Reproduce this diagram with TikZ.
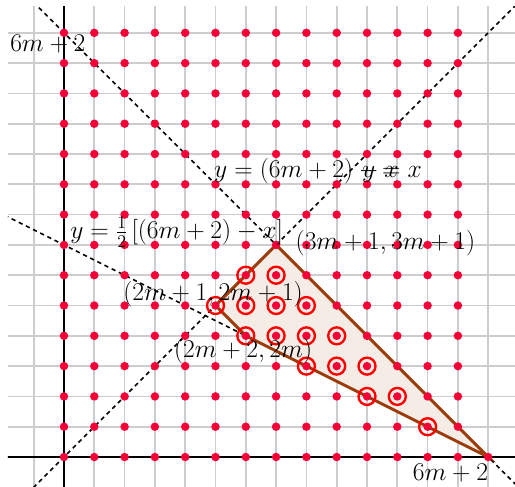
\RequirePackage{fix-cm}
\documentclass[tikz,border=0pt]{standalone}
\usepackage{tikz}
\definecolor{dotred}{RGB}{245,0,55}
\definecolor{edgebrown}{RGB}{155,60,10}
\definecolor{fillbeige}{RGB}{246,236,230}
\definecolor{gridgray}{RGB}{205,205,205}
\tikzset{
  gridline/.style={draw=gridgray,line width=1.6pt},
  axisline/.style={draw=black,line width=1.6pt},
  dashline/.style={draw=black,line width=1.5pt,dash pattern=on 4pt off 3.5pt},
  edgeline/.style={draw=edgebrown,line width=2.8pt,line join=miter},
  ringmark/.style={draw=red,line width=2.2pt},
  lbl/.style={inner sep=0pt,font=\fontsize{24}{29}\selectfont}
}
\begin{document}
\begin{tikzpicture}
\useasboundingbox (-2.112,-0.957) rectangle (14.884,15.083);
\begin{scope}
\clip (-1.85,-0.957) rectangle (14.884,14.88);
% grid
\foreach \x in {-1,...,14} \draw[gridline] (\x,-1.5) -- (\x,15);
\foreach \y in {0,...,14} \draw[gridline] (-2,\y) -- (15,\y);
% triangle fill
\coordinate (T) at (7,7);
\coordinate (P) at (5,5);
\coordinate (Q) at (6,4);
\coordinate (R) at (14,0);
\fill[fillbeige] (T) -- (P) -- (Q) -- (R) -- cycle;
% axes
\coordinate (xl) at (-2,0);
\coordinate (xr) at (15,0);
\coordinate (yb) at (0,-1.5);
\coordinate (yt) at (0,15);
\draw[axisline] (xl) -- (xr);
\draw[axisline] (yb) -- (yt);
% dashed lines
\coordinate (d1a) at (-1.2,-1.2);
\coordinate (d1b) at (15.2,15.2);
\coordinate (d2a) at (-1.2,15.2);
\coordinate (d2b) at (15.2,-1.2);
\coordinate (d3a) at (-2.2,8.1);
\draw[dashline] (d1a) -- (d1b);
\draw[dashline] (d2a) -- (d2b);
\draw[dashline] (d3a) -- (Q);
% triangle edges
\draw[edgeline] (T) -- (P) -- (Q) -- (R) -- cycle;
% rings
\foreach \p in {(6,6),(7,6),(5,5),(6,5),(7,5),(8,5),(6,4),(7,4),(8,4),(9,4),(8,3),(9,3),(10,3),(10,2),(11,2),(12,1)}
  \draw[ringmark] \p circle (0.28);
% dots
\foreach \x in {0,...,13} \foreach \y in {0,...,14} \fill[dotred] (\x,\y) circle (0.14);
\fill[dotred] (14,0) circle (0.14);
\end{scope}
% labels
\node[lbl,anchor=base west] (ltop) at (-1.78,13.37) {$6m+2$};
\node[lbl,anchor=base east] (lbot) at (14.0,-0.76) {$6m+2$};
\node[lbl,anchor=base west] (lanti) at (4.95,9.21) {$y=(6m+2)-x$};
\node[lbl,anchor=base east] (ldiag) at (11.82,9.21) {$y=x$};
\node[lbl,anchor=base west] (lhalf) at (0.2,7.2) {$y=\frac{1}{2}\left[(6m+2)-x\right]$};
\node[lbl,anchor=base west] (lT) at (7.64,6.85) {$(3m+1,3m+1)$};
\node[lbl,anchor=base] (lP) at (4.92,5.18) {$(2m+1,2m+1)$};
\node[lbl,anchor=base] (lQ) at (5.91,3.27) {$(2m+2,2m)$};
\end{tikzpicture}
\end{document}
